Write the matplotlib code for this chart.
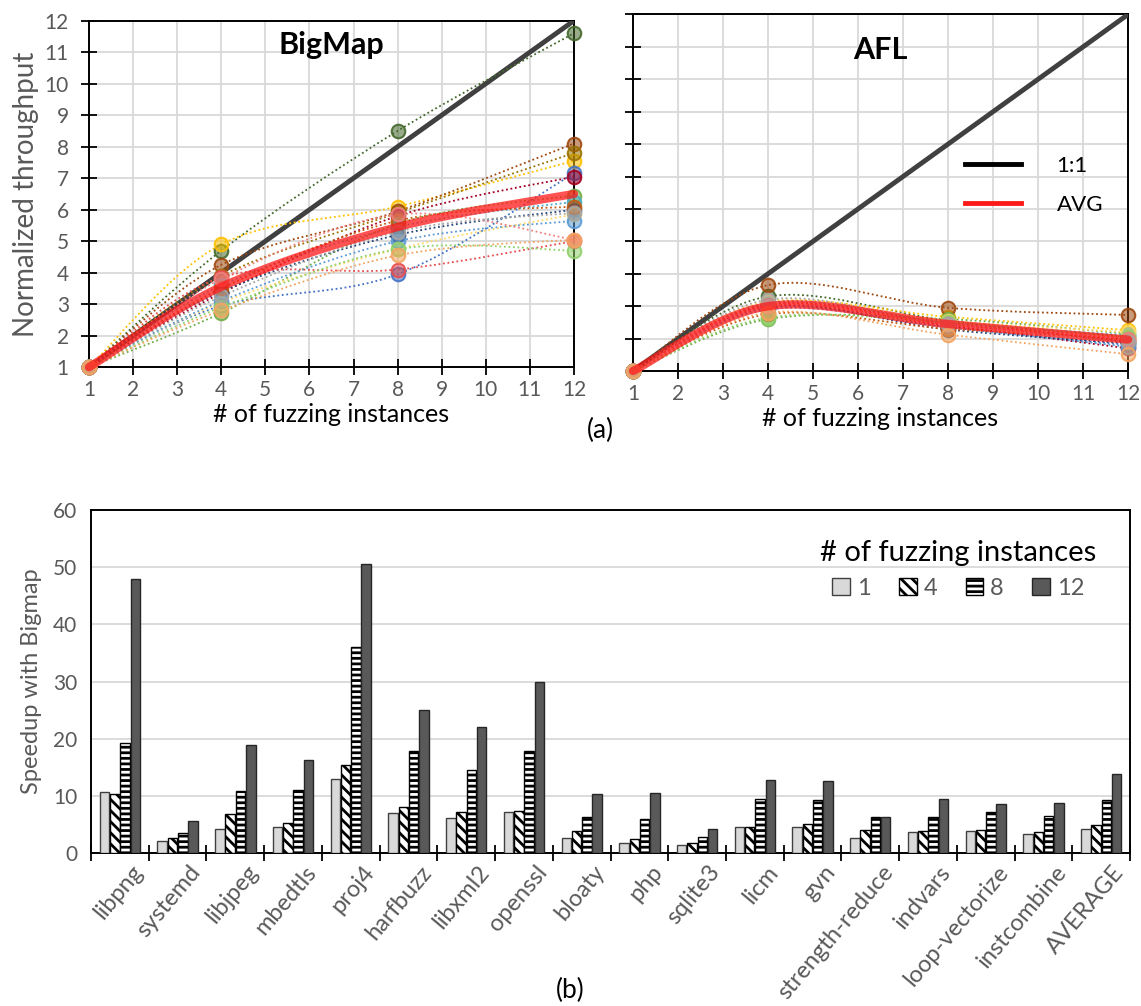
import numpy as np
import matplotlib
matplotlib.use('Agg')
import matplotlib.pyplot as plt
from matplotlib.path import Path
from matplotlib.patches import PathPatch
from matplotlib.lines import Line2D
from matplotlib.colors import to_rgba

plt.rcParams['font.family'] = ['Lato', 'DejaVu Sans']
plt.rcParams['hatch.linewidth'] = 2.0

# ---------------- data ----------------
instances = [1, 4, 8, 12]

# colours of the 17 benchmark lines (Excel like palette)
line_colors = ['#43682B', '#FFC000', '#9E480E', '#997300', '#4472C4', '#A50021',
               '#70AD47', '#4BACC6', '#264478', '#FFD966', '#5B9BD5', '#C55A11',
               '#E84C4C', '#8FD16A', '#F08080', '#A5A5A5', '#F4A460']

# normalized throughput at 4, 8, 12 instances (value at 1 instance is 1)
bigmap_tp = [
    [4.70, 8.50, 11.60],
    [4.90, 6.10, 7.55],
    [4.25, 5.95, 8.10],
    [3.90, 5.90, 7.80],
    [2.95, 3.95, 7.15],
    [3.35, 5.80, 7.05],
    [2.72, 5.55, 6.45],
    [3.60, 5.45, 6.25],
    [3.40, 5.20, 6.00],
    [3.05, 4.75, 5.85],
    [3.10, 5.00, 5.65],
    [3.50, 5.65, 6.10],
    [3.85, 4.10, 5.00],
    [2.90, 4.75, 4.70],
    [3.80, 5.85, 5.05],
    [3.25, 5.30, 5.90],
    [2.80, 4.55, 5.05],
]
bigmap_avg = [3.55, 5.45, 6.50]

afl_tp = [
    [3.30, 2.55, 1.90],
    [3.10, 2.67, 2.26],
    [3.65, 2.95, 2.73],
    [3.05, 2.50, 2.05],
    [2.95, 2.35, 1.80],
    [3.00, 2.40, 1.70],
    [2.60, 2.60, 2.15],
    [3.10, 2.50, 2.10],
    [3.00, 2.28, 1.85],
    [3.15, 2.55, 2.20],
    [2.90, 2.35, 1.75],
    [2.75, 2.30, 2.00],
    [3.05, 2.45, 1.95],
    [2.65, 2.50, 2.05],
    [3.00, 2.45, 2.00],
    [3.20, 2.45, 1.90],
    [2.80, 2.12, 1.52],
]
afl_avg = [3.00, 2.45, 1.97]

benchmarks = ['libpng', 'systemd', 'libjpeg', 'mbedtls', 'proj4', 'harfbuzz',
              'libxml2', 'openssl', 'bloaty', 'php', 'sqlite3', 'licm', 'gvn',
              'strength-reduce', 'indvars', 'loop-vectorize', 'instcombine',
              'AVERAGE']
speedup_1 = [10.6, 2.15, 4.2, 4.6, 13.0, 7.0, 6.2, 7.15, 2.7, 1.7, 1.35, 4.5,
             4.6, 2.7, 3.65, 3.85, 3.4, 4.2]
speedup_4 = [10.35, 2.7, 6.9, 5.3, 15.4, 8.1, 7.15, 7.4, 3.8, 2.5, 1.7, 4.65,
             5.1, 4.1, 3.9, 4.05, 3.65, 4.95]
speedup_8 = [19.2, 3.6, 10.8, 11.0, 36.1, 17.8, 14.6, 17.85, 6.3, 5.9, 2.9,
             9.4, 9.2, 6.3, 6.3, 7.2, 6.4, 9.2]
speedup_12 = [48.0, 5.6, 18.9, 16.3, 50.6, 25.1, 22.0, 29.9, 10.3, 10.5, 4.25,
              12.85, 12.55, 6.35, 9.5, 8.5, 8.8, 13.8]

GRAY_TXT = '#595959'
GRID = '#d9d9d9'


def smooth_path(xs, ys):
    """Excel style smoothed bezier path through the points"""
    pts = np.column_stack([xs, ys]).astype(float)
    n = len(pts)
    verts = [pts[0]]
    codes = [Path.MOVETO]
    for i in range(n - 1):
        p0 = pts[i - 1] if i > 0 else pts[i]
        p1 = pts[i]
        p2 = pts[i + 1]
        p3 = pts[i + 2] if i + 2 < n else pts[i + 1]
        c1 = p1 + (p2 - p0) / 6.0
        c2 = p2 - (p3 - p1) / 6.0
        verts += [c1, c2, p2]
        codes += [Path.CURVE4] * 3
    return Path(verts, codes)


def style_top_axis(ax):
    ax.set_xlim(1, 12)
    ax.set_ylim(1, 12)
    ax.set_xticks(range(1, 13))
    ax.set_yticks(range(1, 13))
    ax.grid(True, color=GRID, lw=1.3, zorder=0)
    ax.set_axisbelow(True)
    for s in ax.spines.values():
        s.set_color('black')
        s.set_linewidth(1.4)
    ax.tick_params(direction='inout', length=11, width=1.3, color='black',
                   labelsize=15, labelcolor=GRAY_TXT, pad=4)
    ax.tick_params(axis='y', pad=9)
    ax.set_xlabel('# of fuzzing instances', fontsize=18, labelpad=2)


def draw_panel(ax, series, avg, title, title_y):
    style_top_axis(ax)
    # 1:1 line
    ax.plot(instances, instances, color='#404040', lw=3.5, zorder=3,
            solid_capstyle='butt')
    for vals, col in zip(series, line_colors):
        ys = [1] + vals
        ax.add_patch(PathPatch(smooth_path(instances, ys), fill=False,
                               ec=col, lw=1.3, ls=(0, (1, 1.5)), zorder=4))
    for vals, col in zip(series, line_colors):
        ys = [1] + vals
        ax.scatter(instances, ys, s=95, facecolor=to_rgba(col, 0.55),
                   edgecolor=to_rgba(col, 0.9), lw=1.5, zorder=5,
                   clip_on=False)
    ax.add_patch(PathPatch(smooth_path(instances, [1] + avg), fill=False,
                           ec='#ff1a1a', lw=6, alpha=0.75, zorder=6,
                           capstyle='round', clip_on=False))
    ax.text(0.5, title_y, title, transform=ax.transAxes, ha='center',
            va='center', fontsize=22, fontweight='bold')


fig = plt.figure(figsize=(11.41, 10.06), dpi=100)

ax1 = fig.add_axes([0.078, 0.635, 0.425, 0.3444])
ax2 = fig.add_axes([0.5548, 0.6312, 0.4338, 0.3544])

draw_panel(ax1, bigmap_tp, bigmap_avg, 'BigMap', 0.93)
ax1.set_ylabel('Normalized throughput', fontsize=20, color=GRAY_TXT, labelpad=4)

draw_panel(ax2, afl_tp, afl_avg, 'AFL', 0.90)
ax2.tick_params(axis='y', labelleft=False)
leg_handles = [Line2D([0], [0], color='black', lw=3.5),
               Line2D([0], [0], color='#ff1a1a', lw=3.5)]
ax2.legend(leg_handles, ['1:1', 'AVG'], loc='center right',
           bbox_to_anchor=(0.99, 0.52), frameon=False, fontsize=16,
           handlelength=2.5, handletextpad=1.6, labelspacing=0.85)

fig.text(600 / 1141, 1 - 430 / 1006, '(a)', ha='center', va='center',
         fontsize=19)

# ---------------- bottom bar chart ----------------
ax3 = fig.add_axes([0.0798, 0.152, 0.9106, 0.341])
idx = np.arange(len(benchmarks))
w = 0.165
step = 0.178
bar_sets = [
    (speedup_1, dict(color='#d9d9d9', edgecolor='#404040'), '1'),
    (speedup_4, dict(color='white', edgecolor='black', hatch='\\\\\\'), '4'),
    (speedup_8, dict(color='white', edgecolor='black', hatch='---'), '8'),
    (speedup_12, dict(color='#595959', edgecolor='#262626'), '12'),
]
for k, (vals, kw, lab) in enumerate(bar_sets):
    ax3.bar(idx + (k - 1.5) * step, vals, width=w, lw=1.0, label=lab,
            zorder=3, **kw)

ax3.set_xlim(-0.5, len(benchmarks) - 0.5)
ax3.set_ylim(0, 60)
ax3.set_yticks(range(0, 61, 10))
ax3.yaxis.grid(True, color=GRID, lw=1.3, zorder=0)
ax3.set_axisbelow(True)
for s in ax3.spines.values():
    s.set_color('black')
    s.set_linewidth(1.4)

# category labels: rotated, end of text a little right of the group centre
ax3.set_xticks(np.arange(-0.5, len(benchmarks) + 0.5, 1))
ax3.set_xticklabels([])
ax3.tick_params(axis='x', direction='inout', length=12, width=1.3,
                color='black')
for i, name in enumerate(benchmarks):
    ax3.annotate(name, xy=(idx[i], 0), xycoords=('data', 'axes fraction'),
                 xytext=(8, -6), textcoords='offset points', rotation=50,
                 ha='right', va='top', rotation_mode='anchor', fontsize=17,
                 color=GRAY_TXT, annotation_clip=False)

ax3.tick_params(axis='y', length=0, labelsize=15, labelcolor=GRAY_TXT, pad=10)
ax3.set_ylabel('Speedup with Bigmap', fontsize=17, color=GRAY_TXT, labelpad=8)

leg = ax3.legend(title='# of fuzzing instances', ncol=4, loc='upper right',
                 bbox_to_anchor=(0.988, 0.975), frameon=False, fontsize=17,
                 title_fontsize=21, handlelength=0.75, handleheight=0.75,
                 handletextpad=0.3, columnspacing=1.2)
for t in leg.get_texts():
    t.set_color(GRAY_TXT)

fig.text(570 / 1141, 1 - 990 / 1006, '(b)', ha='center', va='center',
         fontsize=19)

fig.savefig('out.png', dpi=100)
